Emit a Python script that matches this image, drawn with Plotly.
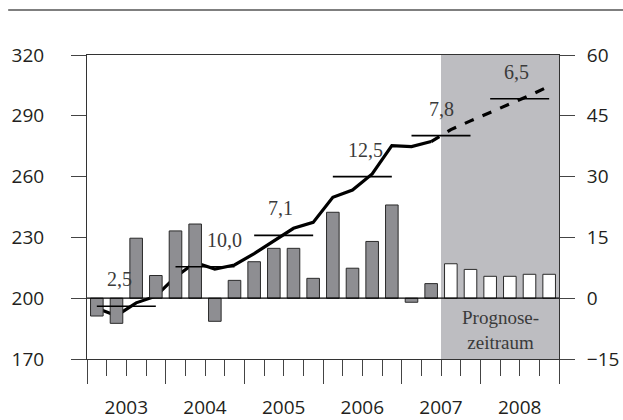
import plotly.graph_objects as go

years = ["2003", "2004", "2005", "2006", "2007", "2008"]

# quarterly change (right axis), actual Q1/2003 - Q2/2007, forecast Q3/2007 - Q4/2008
bars_actual = [-4.4, -6.2, 14.8, 5.6, 16.6, 18.3, -5.7, 4.4, 9.0, 12.3, 12.3, 4.9,
               21.2, 7.4, 14.0, 23.0, -1.0, 3.6]
bars_forecast = [8.5, 7.1, 5.4, 5.4, 5.9, 5.9]

# index level (left axis)
line_actual = [195.1, 191.4, 197.7, 201.0, 210.5, 217.6, 214.4, 216.4, 222.0, 228.3,
               234.5, 237.4, 249.8, 253.4, 261.3, 275.3, 274.8, 277.3]
line_forecast = [277.3, 283.2, 287.5, 291.6, 295.7, 300.0, 304.6]

# annual averages and growth rates
year_avg = [196.0, 215.5, 231.0, 260.0, 280.2, 298.4]
year_growth = ["2,5", "10,0", "7,1", "12,5", "7,8", "6,5"]

n_act = len(bars_actual)
x_act = [i + 0.5 for i in range(n_act)]
x_fc = [n_act + i + 0.5 for i in range(len(bars_forecast))]
x_line_fc = [n_act - 0.5 + i for i in range(len(line_forecast))]

fig = go.Figure()

fig.add_trace(go.Bar(x=x_act, y=bars_actual, yaxis="y2", width=0.64,
                     marker=dict(color="#8e8e92", line=dict(color="#2a2a2a", width=1))))
fig.add_trace(go.Bar(x=x_fc, y=bars_forecast, yaxis="y2", width=0.64,
                     marker=dict(color="white", line=dict(color="#2a2a2a", width=1))))

fig.add_trace(go.Scatter(x=x_act, y=line_actual, mode="lines",
                         line=dict(color="black", width=3.2)))
fig.add_trace(go.Scatter(x=x_line_fc, y=line_forecast, mode="lines",
                         line=dict(color="black", width=3.2, dash="dash")))

for k, avg in enumerate(year_avg):
    fig.add_trace(go.Scatter(x=[4 * k + 0.5, 4 * k + 3.5], y=[avg, avg], mode="lines",
                             xaxis="x2", line=dict(color="black", width=1.6)))

shift = [-7, 19, -3, 3, 0, -3]
for k, (avg, g) in enumerate(zip(year_avg, year_growth)):
    fig.add_annotation(x=4 * k + 2, y=avg, text=g, showarrow=False, yshift=27, xshift=shift[k],
                       font=dict(family="Liberation Serif", size=20, color="#3a3a3a"))

fig.add_annotation(x=21, y=0.095, yref="paper", yanchor="middle", text="Prognose-<br>zeitraum",
                   showarrow=False,
                   font=dict(family="Liberation Serif", size=19, color="#3a3a3a"))

fig.add_shape(type="rect", x0=18, x1=24, y0=0, y1=1, yref="paper",
              fillcolor="#bdbdc1", line_width=0, layer="below")
fig.add_shape(type="line", x0=0, x1=24, y0=200, y1=200, line=dict(color="black", width=1.2))
fig.add_shape(type="line", x0=-0.167, x1=1.2, y0=1.148, y1=1.148, xref="paper", yref="paper",
              line=dict(color="#555", width=1.5))

tickfont = dict(family="Open Sans", size=19, color="#231f20")

fig.update_layout(
    width=623, height=420,
    margin=dict(l=87, r=64, t=55, b=61),
    plot_bgcolor="white", paper_bgcolor="white",
    showlegend=False, barmode="overlay",
    xaxis=dict(range=[0, 24], tickvals=[2, 6, 10, 14, 18, 22], ticktext=years, ticks="",
               ticklabelstandoff=31, tickfont=tickfont, showline=True, linecolor="#333",
               linewidth=1, mirror=True, showgrid=False, zeroline=False, automargin=False,
               minor=dict(tickvals=list(range(25)), ticks="outside", ticklen=16, tickcolor="#444")),
    xaxis2=dict(range=[0, 24], overlaying="x", anchor="y", side="bottom",
                tickvals=[0, 4, 8, 12, 16, 20, 24], ticks="outside", ticklen=24, tickcolor="#444",
                showticklabels=False, showgrid=False, zeroline=False, showline=False,
                automargin=False),
    yaxis=dict(range=[170, 320], tickvals=[170, 200, 230, 260, 290, 320], ticks="outside",
               ticklen=15, tickcolor="#444", showline=True, linecolor="#333", linewidth=1,
               showgrid=False, zeroline=False, tickfont=tickfont, ticklabelstandoff=23,
               automargin=False),
    yaxis2=dict(range=[-15, 60], tickvals=[-15, 0, 15, 30, 45, 60], overlaying="y", side="right",
                ticks="outside", ticklen=15, tickcolor="#444", showline=True, linecolor="#333",
                linewidth=1, showgrid=False, zeroline=False, tickfont=tickfont,
                ticklabelstandoff=8, automargin=False),
)

fig.write_html("out.html", config={"displayModeBar": False},
               post_script="document.body.style.margin='0';")
